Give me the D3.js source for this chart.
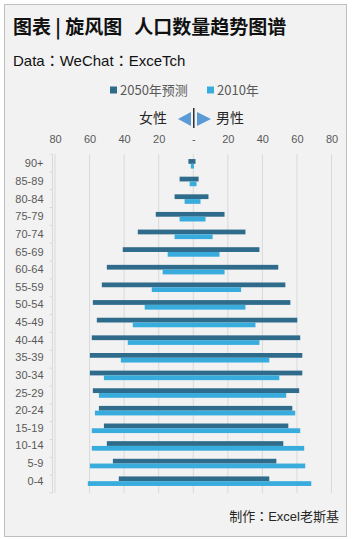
<!DOCTYPE html>
<html lang="zh">
<head>
<meta charset="utf-8">
<title>旋风图</title>
<style>
  body { margin: 0; background: #fff; }
  svg { display: block; }
  text { font-family: "Noto Sans CJK SC", "Liberation Sans", sans-serif; }
  .colon { font-family: "Noto Sans CJK TC", sans-serif; }
</style>
</head>
<body>
<svg id="chart"></svg>
<script src="https://d3js.org/d3.v7.min.js"></script>
<script>
// age groups, top to bottom
const categories = ["90+", "85-89", "80-84", "75-79", "70-74", "65-69", "60-64", "55-59", "50-54",
  "45-49", "40-44", "35-39", "30-34", "25-29", "20-24", "15-19", "10-14", "5-9", "0-4"];
const female2050 = [2.8, 7.9, 10.8, 21.7, 32.1, 40.8, 50, 52.9, 58.1, 55.8, 58.7, 59.8, 59.8, 58.1, 54.6, 51.7, 50, 46.5, 43.1];
const male2050   = [1.3, 3.1, 8.8, 18.1, 30.2, 38.3, 49.2, 53.3, 56.2, 60.2, 61.9, 63.1, 63.1, 61.3, 57.3, 55, 52.1, 48.1, 44];
const female2010 = [1.4, 2.1, 5.0, 7.9, 10.8, 14.8, 17.7, 24, 28.1, 35, 37.9, 41.9, 51.7, 54.6, 56.9, 58.7, 58.7, 59.8, 61];
const male2010   = [0.4, 1.9, 4.2, 7.1, 11.2, 15.2, 18.1, 27.7, 30.2, 36, 38.3, 44, 49.8, 53.8, 59, 61.9, 64.2, 64.8, 68.3];
const ticks = [-80, -60, -40, -20, 0, 20, 40, 60, 80];
const seriesNames = ["2050年预测", "2010年"];

const W = 354, H = 539;
const dark = "#2f6b8a", light = "#38acdd";
const latin = "'Liberation Sans', 'Noto Sans CJK SC', sans-serif";

const svg = d3.select("#chart").attr("width", W).attr("height", H);

svg.append("rect").attr("x", 4.5).attr("y", 4.5).attr("width", 342).attr("height", 532)
  .style("fill", "#f2f2f2").style("stroke", "#bfbfbf");

const x = d3.scaleLinear().domain([-80, 80]).range([55, 331.5]);
const y = d3.scaleBand().domain(categories).range([155, 490]).paddingInner(0.46).paddingOuter(0.23);
const sub = d3.scaleBand().domain(seriesNames).range([0, y.bandwidth()]);

// grid
svg.append("g").selectAll("line").data(ticks).join("line")
  .attr("x1", d => x(d)).attr("x2", d => x(d))
  .attr("y1", 154).attr("y2", 493)
  .style("stroke", "#d9d9d9").style("stroke-width", 1);

// top axis labels
const xAxis = d3.axisTop(x).tickValues(ticks).tickSize(0)
  .tickFormat(d => d === 0 ? "-" : Math.abs(d));
svg.append("g").attr("transform", "translate(0,139)").call(xAxis)
  .call(g => g.select(".domain").remove())
  .selectAll("text").attr("dy", "0.35em").attr("y", 0)
  .style("font-size", "11px").style("fill", "#595959")
  .style("font-family", latin);

// category axis at the left
const yAxis = d3.axisLeft(y).tickSize(0).tickPadding(9);
const ya = svg.append("g").attr("transform", "translate(52.5,0)").call(yAxis);
ya.select(".domain").remove();
ya.selectAll("text").style("font-size", "11px").style("fill", "#595959")
  .style("font-family", latin);
ya.append("line").attr("x1", 0).attr("x2", 0).attr("y1", 154).attr("y2", 493)
  .style("stroke", "#d9d9d9");
const step = (493 - 154) / categories.length;
ya.selectAll(".sep").data(d3.range(categories.length + 1)).join("line")
  .attr("class", "sep")
  .attr("x1", -3).attr("x2", 0)
  .attr("y1", i => 154 + i * step).attr("y2", i => 154 + i * step)
  .style("stroke", "#d9d9d9");

// bars
const rows = categories.map((c, i) => ({ c, f50: female2050[i], m50: male2050[i], f10: female2010[i], m10: male2010[i] }));
const bars = svg.append("g");
bars.selectAll(".b50").data(rows).join("rect").attr("class", "b50")
  .attr("x", d => x(-d.f50)).attr("width", d => x(d.m50) - x(-d.f50))
  .attr("y", d => y(d.c) + sub(seriesNames[0])).attr("height", sub.bandwidth())
  .style("fill", dark);
bars.selectAll(".b10").data(rows).join("rect").attr("class", "b10")
  .attr("x", d => x(-d.f10)).attr("width", d => x(d.m10) - x(-d.f10))
  .attr("y", d => y(d.c) + sub(seriesNames[1])).attr("height", sub.bandwidth())
  .style("fill", light);

// title
const title = svg.append("text").attr("x", 13).attr("y", 34)
  .style("font-size", "19px").style("font-weight", "bold").style("fill", "#111");
title.append("tspan").text("图表 | 旋风图");
title.append("tspan").attr("dx", 12).text("人口数量趋势图谱");

// source line; colon taken from the TC face where it sits centred
const src = svg.append("text").attr("x", 13).attr("y", 66)
  .style("font-size", "15px").style("fill", "#111").style("font-family", latin);
src.append("tspan").text("Data");
src.append("tspan").attr("class", "colon").attr("lang", "zh-TW").text("：");
src.append("tspan").text("WeChat");
src.append("tspan").attr("class", "colon").attr("lang", "zh-TW").text("：");
src.append("tspan").text("ExceTch");

// legend
const leg = [{ name: seriesNames[0], color: dark, x: 110 }, { name: seriesNames[1], color: light, x: 207 }];
const lg = svg.append("g").selectAll("g").data(leg).join("g")
  .attr("transform", d => `translate(${d.x},90)`);
lg.append("rect").attr("x", 0).attr("y", -3.5).attr("width", 7).attr("height", 7).style("fill", d => d.color);
lg.append("text").attr("x", 10).attr("dy", "0.35em").text(d => d.name)
  .style("font-size", "13px").style("fill", "#595959");

// female / male header
svg.append("text").attr("x", 167).attr("y", 118).attr("dy", "0.35em").attr("text-anchor", "end")
  .text("女性").style("font-size", "14px").style("fill", "#262626");
svg.append("text").attr("x", 216).attr("y", 118).attr("dy", "0.35em")
  .text("男性").style("font-size", "14px").style("fill", "#262626");
svg.append("path").attr("d", "M178,119 L191,112 L191,126 Z").style("fill", "#5b9bd5");
svg.append("path").attr("d", "M211,119 L197,112 L197,126 Z").style("fill", "#5b9bd5");
svg.append("line").attr("x1", 193.8).attr("x2", 193.8).attr("y1", 108).attr("y2", 128)
  .style("stroke", "#111").style("stroke-width", 1.3);

// footer
const foot = svg.append("text").attr("x", 339).attr("y", 516).attr("dy", "0.35em").attr("text-anchor", "end")
  .style("font-size", "13px").style("fill", "#262626");
foot.append("tspan").text("制作");
foot.append("tspan").attr("class", "colon").attr("lang", "zh-TW").text("：");
foot.append("tspan").text("Excel").style("font-family", latin);
foot.append("tspan").text("老斯基");
</script>
</body>
</html>
